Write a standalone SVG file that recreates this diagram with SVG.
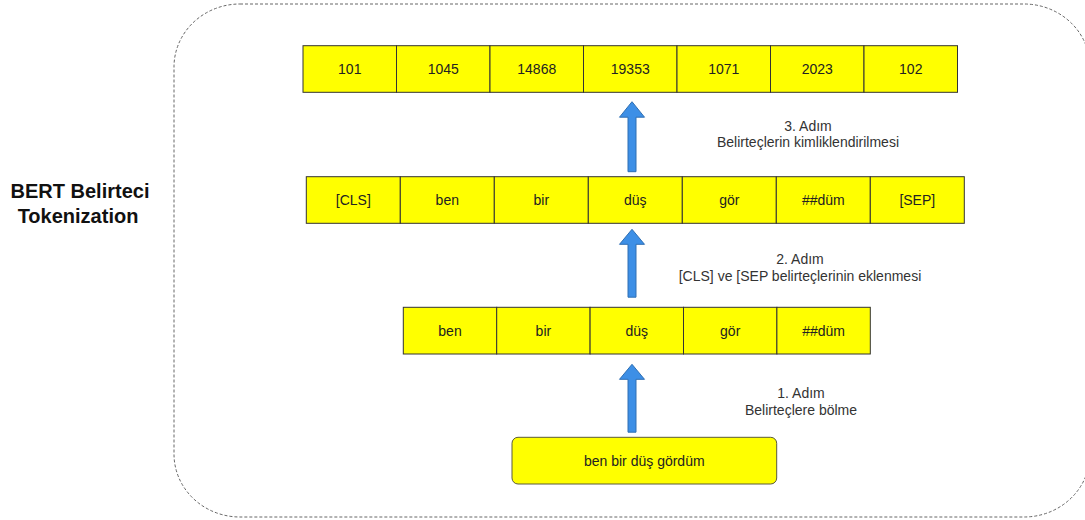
<svg xmlns="http://www.w3.org/2000/svg" width="1085" height="520" viewBox="0 0 1085 520">
  <style>
    .cell { fill: #ffff00; stroke: #333333; stroke-width: 1; }
    .ct { font-family: "Liberation Sans", Arial, sans-serif; font-size: 14px; fill: #222222; text-anchor: middle; }
    .lbl { font-family: "Liberation Sans", Arial, sans-serif; font-size: 14px; fill: #333333; text-anchor: middle; }
    .title { font-family: "Liberation Sans", Arial, sans-serif; font-size: 20px; font-weight: bold; fill: #111111; text-anchor: middle; }
    .frame { fill: none; stroke: #666666; stroke-width: 1; stroke-dasharray: 3 2; }
    .arrow { fill: #3d8fe6; stroke: #2f6fb3; stroke-width: 1; }
  </style>
  <defs>
    <!-- block arrow pointing up, tip at origin, 70px long -->
    <path id="upArrow" d="M0,0 L12.5,15.5 L4,15.5 L4,70 L-4,70 L-4,15.5 L-12.5,15.5 Z"/>
  </defs>

  <rect width="1085" height="520" fill="#ffffff"/>

  <!-- dashed container -->
  <g id="container">
    <rect class="frame" x="174" y="4" width="916" height="513" rx="66" ry="63"/>
  </g>

  <!-- side title -->
  <g id="title">
    <text class="title" x="80" y="198">BERT Belirteci</text>
    <text class="title" x="78" y="223">Tokenization</text>
  </g>

  <!-- token ids row -->
  <g id="row-ids">
    <g id="id-101"><rect class="cell" x="303" y="45.7" width="93.5" height="46.6"/><text class="ct" x="349.75" y="74">101</text></g>
    <g id="id-1045"><rect class="cell" x="396.5" y="45.7" width="93.5" height="46.6"/><text class="ct" x="443.25" y="74">1045</text></g>
    <g id="id-14868"><rect class="cell" x="490" y="45.7" width="93.5" height="46.6"/><text class="ct" x="536.75" y="74">14868</text></g>
    <g id="id-19353"><rect class="cell" x="583.5" y="45.7" width="93.5" height="46.6"/><text class="ct" x="630.25" y="74">19353</text></g>
    <g id="id-1071"><rect class="cell" x="677" y="45.7" width="93.5" height="46.6"/><text class="ct" x="723.75" y="74">1071</text></g>
    <g id="id-2023"><rect class="cell" x="770.5" y="45.7" width="93.5" height="46.6"/><text class="ct" x="817.25" y="74">2023</text></g>
    <g id="id-102"><rect class="cell" x="864" y="45.7" width="93.5" height="46.6"/><text class="ct" x="910.75" y="74">102</text></g>
  </g>

  <!-- tokens with special markers -->
  <g id="row-special">
    <g id="tok-cls"><rect class="cell" x="306.3" y="176.7" width="94" height="46.6"/><text class="ct" x="353.3" y="205">[CLS]</text></g>
    <g id="tok2-ben"><rect class="cell" x="400.3" y="176.7" width="94" height="46.6"/><text class="ct" x="447.3" y="205">ben</text></g>
    <g id="tok2-bir"><rect class="cell" x="494.3" y="176.7" width="94" height="46.6"/><text class="ct" x="541.3" y="205">bir</text></g>
    <g id="tok2-dus"><rect class="cell" x="588.3" y="176.7" width="94" height="46.6"/><text class="ct" x="635.3" y="205">düş</text></g>
    <g id="tok2-gor"><rect class="cell" x="682.3" y="176.7" width="94" height="46.6"/><text class="ct" x="729.3" y="205">gör</text></g>
    <g id="tok2-dum"><rect class="cell" x="776.3" y="176.7" width="94" height="46.6"/><text class="ct" x="823.3" y="205">##düm</text></g>
    <g id="tok-sep"><rect class="cell" x="870.3" y="176.7" width="94" height="46.6"/><text class="ct" x="917.3" y="205">[SEP]</text></g>
  </g>

  <!-- plain tokens -->
  <g id="row-tokens">
    <g id="tok-ben"><rect class="cell" x="403.3" y="307.3" width="93.4" height="46.7"/><text class="ct" x="450" y="336">ben</text></g>
    <g id="tok-bir"><rect class="cell" x="496.7" y="307.3" width="93.4" height="46.7"/><text class="ct" x="543.4" y="336">bir</text></g>
    <g id="tok-dus"><rect class="cell" x="590.1" y="307.3" width="93.4" height="46.7"/><text class="ct" x="636.8" y="336">düş</text></g>
    <g id="tok-gor"><rect class="cell" x="683.5" y="307.3" width="93.4" height="46.7"/><text class="ct" x="730.2" y="336">gör</text></g>
    <g id="tok-dum"><rect class="cell" x="776.9" y="307.3" width="93.4" height="46.7"/><text class="ct" x="823.6" y="336">##düm</text></g>
  </g>

  <!-- input sentence -->
  <g id="sentence">
    <rect x="512" y="437.3" width="264.7" height="46.7" rx="6" ry="6" fill="#ffff00" stroke="#5a5a3a" stroke-width="1"/>
    <text class="ct" x="644.3" y="466">ben bir düş gördüm</text>
  </g>

  <!-- connectors -->
  <g id="connectors">
    <use href="#upArrow" class="arrow" transform="translate(632,101.7)"/>
    <use href="#upArrow" class="arrow" transform="translate(632,229.3) scale(1,0.97)"/>
    <use href="#upArrow" class="arrow" transform="translate(632,364.3) scale(1,0.97)"/>
  </g>

  <!-- step labels -->
  <g id="step-labels">
    <text class="lbl" x="808" y="131">3. Adım</text>
    <text class="lbl" x="808" y="147">Belirteçlerin kimliklendirilmesi</text>
    <text class="lbl" x="800" y="264">2. Adım</text>
    <text class="lbl" x="800" y="281">[CLS] ve [SEP belirteçlerinin eklenmesi</text>
    <text class="lbl" x="801" y="398">1. Adım</text>
    <text class="lbl" x="801" y="415">Belirteçlere bölme</text>
  </g>
</svg>
